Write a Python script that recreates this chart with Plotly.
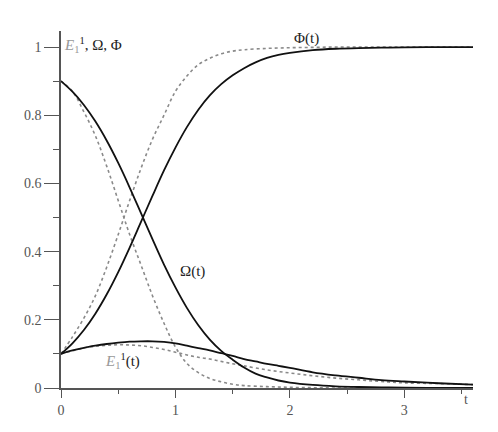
import plotly.graph_objects as go

# time grid for each curve
t_main = [0, 0.1, 0.2, 0.3, 0.4, 0.5, 0.6, 0.7, 0.8, 0.9, 1.0, 1.1, 1.2, 1.3, 1.4,
          1.5, 1.6, 1.7, 1.8, 1.9, 2.0, 2.2, 2.4, 2.6, 2.8, 3.0, 3.3, 3.6]

phi_solid = [0.10, 0.131, 0.170, 0.218, 0.275, 0.340, 0.412, 0.488, 0.564, 0.638, 0.705,
             0.765, 0.816, 0.858, 0.891, 0.917, 0.938, 0.955, 0.968, 0.977, 0.983, 0.991,
             0.995, 0.997, 0.998, 0.999, 1.0, 1.0]
omega_solid = [0.90, 0.869, 0.830, 0.782, 0.725, 0.660, 0.588, 0.512, 0.436, 0.362, 0.295,
               0.235, 0.184, 0.142, 0.109, 0.083, 0.060, 0.042, 0.031, 0.022, 0.016, 0.009,
               0.005, 0.003, 0.002, 0.001, 0.0, 0.0]
e_solid = [0.10, 0.110, 0.118, 0.124, 0.129, 0.133, 0.136, 0.137, 0.137, 0.135, 0.131,
           0.124, 0.117, 0.110, 0.102, 0.094, 0.085, 0.078, 0.071, 0.065, 0.059, 0.046,
           0.037, 0.030, 0.023, 0.019, 0.014, 0.010]

t_dot = [0, 0.1, 0.2, 0.3, 0.4, 0.5, 0.6, 0.7, 0.8, 0.9, 1.0, 1.1, 1.2, 1.3, 1.4,
         1.5, 1.6, 1.8, 2.0, 2.2, 2.4, 2.6, 2.8, 3.0, 3.3, 3.6]
phi_dot = [0.10, 0.15, 0.205, 0.27, 0.355, 0.45, 0.55, 0.645, 0.73, 0.80, 0.87, 0.915,
           0.948, 0.967, 0.980, 0.988, 0.992, 0.996, 0.998, 0.999, 1.0, 1.0, 1.0, 1.0, 1.0, 1.0]
omega_dot = [0.90, 0.87, 0.81, 0.74, 0.65, 0.55, 0.45, 0.36, 0.27, 0.19, 0.12, 0.072,
             0.045, 0.028, 0.018, 0.011, 0.007, 0.004, 0.002, 0.001, 0.0, 0.0, 0.0, 0.0, 0.0, 0.0]
e_dot = [0.10, 0.109, 0.117, 0.122, 0.125, 0.127, 0.126, 0.124, 0.119, 0.113, 0.105, 0.097,
         0.090, 0.085, 0.078, 0.071, 0.065, 0.053, 0.044, 0.036, 0.029, 0.024, 0.019, 0.015,
         0.013, 0.010]

y_ticks = [0, 0.2, 0.4, 0.6, 0.8, 1]
y_tick_labels = ["0", "0.2", "0.4", "0.6", "0.8", "1"]
x_ticks = [0, 1, 2, 3]
x_tick_labels = ["0", "1", "2", "3"]

fig = go.Figure()
dot_style = dict(color="#8a8a8a", width=1.6, dash="dot")
solid_style = dict(color="#111111", width=1.8)
for ys in (phi_dot, omega_dot, e_dot):
    fig.add_trace(go.Scatter(x=t_dot, y=ys, mode="lines", line=dict(shape="spline", **dot_style),
                             showlegend=False, hoverinfo="skip"))
for ys in (phi_solid, omega_solid, e_solid):
    fig.add_trace(go.Scatter(x=t_main, y=ys, mode="lines", line=dict(shape="spline", **solid_style),
                             showlegend=False, hoverinfo="skip"))

font = dict(family="Liberation Serif, Times New Roman, serif", size=14, color="#555")

fig.update_layout(
    width=498, height=432,
    margin=dict(l=53, r=33, t=23, b=52),
    paper_bgcolor="white", plot_bgcolor="white",
    font=font,
    xaxis=dict(range=[0, 3.6], showgrid=False, zeroline=False, showline=True,
               linecolor="#555", linewidth=1.5, ticks="outside", ticklen=8,
               tickcolor="#555", tickwidth=1.3, tickvals=x_ticks, ticktext=x_tick_labels,
               minor=dict(tickvals=[0.5, 1.5, 2.5, 3.5], ticks="outside", ticklen=4,
                          tickcolor="#555", tickwidth=1.2),
               tickfont=font),
    yaxis=dict(range=[0, 1.047], showgrid=False, zeroline=False, showline=True,
               linecolor="#555", linewidth=1.5, ticks="outside", ticklen=15,
               tickcolor="#555", tickwidth=1.3, tickvals=y_ticks, ticktext=y_tick_labels,
               minor=dict(tickvals=[0.1, 0.3, 0.5, 0.7, 0.9], ticks="outside", ticklen=6,
                          tickcolor="#555", tickwidth=1.2),
               tickfont=font),
)

ann_font = dict(family="Liberation Serif, Times New Roman, serif", size=15, color="#222")
fig.add_annotation(x=0.01, y=1.006, xanchor="left", yanchor="middle", showarrow=False,
                   text="<span style='color:#999'><i>E</i><sub>1</sub></span><sup>1</sup>, Ω, Φ",
                   font=ann_font)
fig.add_annotation(xref="paper", yref="paper", x=0.595, y=1.008, showarrow=False,
                   text="Φ(t)", font=ann_font)
fig.add_annotation(x=1.15, y=0.343, showarrow=False, text="Ω(t)", font=ann_font)
fig.add_annotation(x=0.54, y=0.079, showarrow=False,
                   text="<span style='color:#999'><i>E</i><sub>1</sub></span><sup>1</sup>(t)",
                   font=ann_font)
fig.add_annotation(xref="paper", yref="paper", x=0.993, y=-0.058, showarrow=False,
                   text="t", font=font)

fig.write_html("out.html")
